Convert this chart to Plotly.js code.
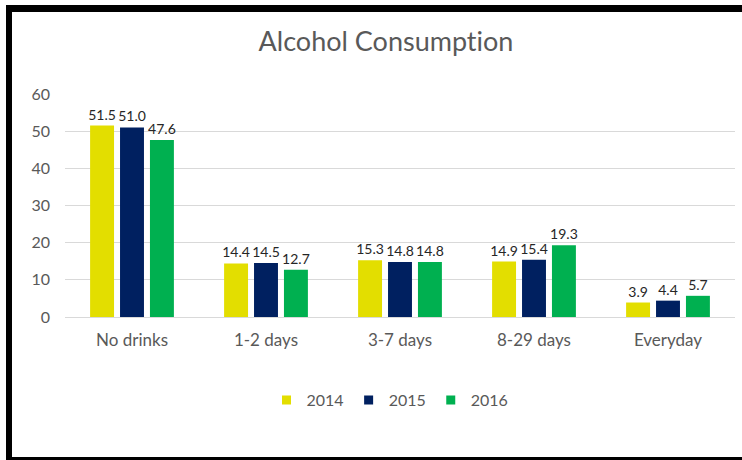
<!DOCTYPE html>
<html>
<head>
<meta charset="utf-8">
<script src="https://cdn.plot.ly/plotly-3.0.1.min.js"></script>
<style>
  html, body { margin: 0; padding: 0; background: #fff; }
  #wrap { position: relative; width: 742px; height: 460px; overflow: hidden; }
  #chart { position: absolute; left: 0; top: 0; width: 742px; height: 460px; }
  #chart text { font-variant-ligatures: none; font-feature-settings: "liga" 0, "clig" 0; }
  .frame { position: absolute; background: #000; pointer-events: none; }
</style>
</head>
<body>
<div id="wrap">
  <div id="chart"></div>
  <div class="frame" style="left:6px; top:5px; width:736px; height:7px;"></div>
  <div class="frame" style="left:6px; top:5px; width:6px; height:455px;"></div>
  <div class="frame" style="left:6px; top:457px; width:736px; height:3px;"></div>
</div>
<script>
const categories = ["No drinks", "1-2 days", "3-7 days", "8-29 days", "Everyday"];
const years = ["2014", "2015", "2016"];
const values2014 = [51.5, 14.4, 15.3, 14.9, 3.9];
const values2015 = [51.0, 14.5, 14.8, 15.4, 4.4];
const values2016 = [47.6, 12.7, 14.8, 19.3, 5.7];
const colors = ["#E3DE00", "#002060", "#00B050"];
const yTicks = [0, 10, 20, 30, 40, 50, 60];

const FONT = "Lato, 'Open Sans', sans-serif";
const series = [values2014, values2015, values2016];
const traces = [];
series.forEach((vals, i) => {
  traces.push({
    type: "bar",
    name: years[i],
    x: categories,
    y: vals,
    marker: { color: colors[i] },
    text: vals.map(v => v.toFixed(1)),
    textposition: "outside",
    constraintext: "none",
    cliponaxis: false,
    textfont: { family: FONT, size: 14, color: "#262626" },
    showlegend: false,
    legendgroup: years[i],
    hoverinfo: "x+y+name"
  });
});
// legend entries (small square swatches like the original)
series.forEach((vals, i) => {
  traces.push({
    type: "scatter",
    mode: "markers",
    name: years[i],
    x: [null],
    y: [null],
    marker: { symbol: "square", size: 9, color: colors[i] },
    showlegend: true,
    legendgroup: years[i],
    hoverinfo: "skip"
  });
});

const layout = {
  width: 742, height: 460,
  margin: { l: 65, r: 7, t: 94, b: 143 },
  paper_bgcolor: "#ffffff",
  plot_bgcolor: "#ffffff",
  font: { family: FONT, color: "#595959", size: 16 },
  title: {
    text: "Alcohol Consumption",
    font: { family: FONT, size: 27, color: "#595959" },
    xref: "container", x: 386 / 742, xanchor: "center",
    yref: "container", y: 1 - 42 / 460, yanchor: "middle"
  },
  barmode: "group",
  bargap: 0.33,
  bargroupgap: 0.2,
  showlegend: true,
  legend: {
    orientation: "h",
    xref: "container", x: 390 / 742, xanchor: "center",
    yref: "container", y: 1 - 400 / 460, yanchor: "middle",
    font: { family: FONT, size: 16, color: "#595959" },
    itemwidth: 30,
    traceorder: "normal"
  },
  xaxis: {
    type: "category",
    showgrid: false,
    showline: true,
    linecolor: "#d9d9d9",
    linewidth: 1,
    ticks: "",
    ticklabelstandoff: 8,
    tickfont: { family: FONT, size: 17, color: "#595959" },
    fixedrange: true
  },
  yaxis: {
    range: [0, 60],
    tickvals: yTicks,
    ticktext: yTicks.map(String),
    showgrid: true,
    gridcolor: "#d9d9d9",
    gridwidth: 1,
    zeroline: false,
    showline: false,
    ticks: "",
    ticklabelstandoff: 14,
    tickfont: { family: FONT, size: 16, color: "#595959" },
    fixedrange: true
  }
};

Plotly.newPlot("chart", traces, layout, { displayModeBar: false, staticPlot: true });
</script>
</body>
</html>
